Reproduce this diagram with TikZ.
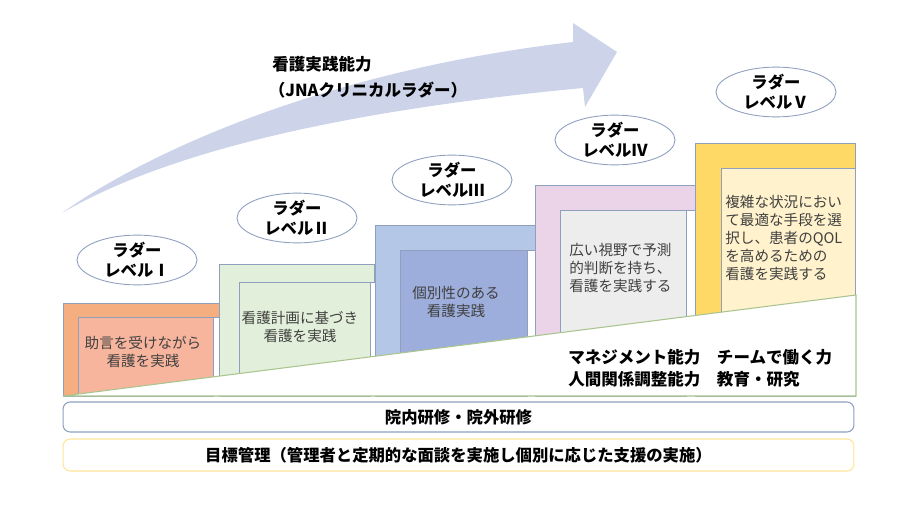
\documentclass[tikz,border=0pt]{standalone}
\usepackage{fontspec}
\setmainfont{Noto Sans CJK JP}
\usetikzlibrary{positioning,shapes.geometric}
\definecolor{lvBorder}{HTML}{8EA0BE}
\definecolor{arrowFill}{HTML}{CDD4EA}
\definecolor{orOuter}{HTML}{F4AE80}
\definecolor{orInner}{HTML}{F7B59D}
\definecolor{grOuter}{HTML}{E2EFDA}
\definecolor{grInner}{HTML}{E2EFDA}
\definecolor{blOuter}{HTML}{B4C7E7}
\definecolor{blInner}{HTML}{9DAEDC}
\definecolor{pkOuter}{HTML}{EBD3E8}
\definecolor{pkInner}{HTML}{EDEDED}
\definecolor{ylOuter}{HTML}{FFD966}
\definecolor{ylInner}{HTML}{FFF2CC}
\definecolor{baseLine}{HTML}{A9C48E}
\definecolor{goalLine}{HTML}{FFE699}
\definecolor{txtGray}{HTML}{404040}

\begin{document}
\begin{tikzpicture}[x=0.02cm,y=-0.02cm,
  frame/.style={draw=lvBorder,line width=0.5pt},
  badge/.style={ellipse,draw=lvBorder,fill=white,line width=0.5pt,minimum width=2.4cm,minimum height=0.93cm,inner sep=0pt,align=center,font=\fontsize{9.3pt}{11.3pt}\selectfont\bfseries},
  desc/.style={text=txtGray,font=\fontsize{8.3pt}{10.3pt}\selectfont,inner sep=0pt},
  bar/.style={rounded corners=4pt,fill=white,line width=0.6pt,minimum width=15.82cm,font=\fontsize{9.3pt}{11pt}\selectfont\bfseries},
  title/.style={font=\fontsize{9.4pt}{11.3pt}\selectfont\bfseries,inner sep=0pt}
]
\useasboundingbox (0,0) rectangle (900,507);

% growth arrow
\fill[arrowFill] (62,213) .. controls (150,150) and (330,70) .. (573,42) -- (573,23) -- (617,52)
  -- (585,107) -- (583,88) .. controls (350,110) and (170,150) .. (62,213) -- cycle;
\node[title] (cap) at (322,64) {看護実践能力};
\node[title] (capsub) at (368,90) {（JNAクリニカルラダー）};

% ladder steps
\draw[frame,fill=orOuter] (63,396) -- (63,303) -- (219,303) -- (219,317) -- (78,317) -- (78,396) -- cycle;
\draw[frame,fill=orInner] (78,317) rectangle (213,396);
\draw[frame,fill=grOuter] (219,396) -- (219,264) -- (374,264) -- (374,282) -- (239,282) -- (239,396) -- cycle;
\draw[frame,fill=grInner] (239,282) rectangle (370,396);
\draw[frame,fill=blOuter] (375,396) -- (375,225) -- (535,225) -- (535,250) -- (400,250) -- (400,396) -- cycle;
\draw[frame,fill=blInner] (400,250) rectangle (527,396);
\draw[frame,fill=pkOuter] (535,396) -- (535,185) -- (695,185) -- (695,210) -- (560,210) -- (560,396) -- cycle;
\draw[frame,fill=pkInner] (560,210) rectangle (686,396);
\draw[frame,fill=ylOuter] (695,396) -- (695,143) -- (855,143) -- (855,168) -- (721,168) -- (721,396) -- cycle;
\draw[frame,fill=ylInner] (721,168) rectangle (855,396);

% base wedge
\draw[fill=white,draw=baseLine,line width=0.6pt] (63,396) -- (856,295) -- (856,396) -- cycle;

% step texts
\node[desc,align=center] (t1) at (143,352) {助言を受けながら\\看護を実践};
\node[desc,align=center] (t2) at (300,327) {看護計画に基づき\\看護を実践};
\node[desc,align=center] (t3) at (456,302) {個別性のある\\看護実践};
\node[desc,align=left,anchor=west] (t4) at (569,268) {広い視野で予測\\的判断を持ち、\\看護を実践する};
\node[desc,align=left,anchor=west] (t5) at (725,238) {複雑な状況におい\\て最適な手段を選\\択し、患者のQOL\\を高めるための\\看護を実践する};

% level badges
\node[badge] (lv1) at (137,260) {ラダー\\レベルⅠ};
\node[badge] (lv2) at (297,218) {ラダー\\レベルⅡ};
\node[badge] (lv3) at (452,180) {ラダー\\レベルⅢ};
\node[badge] (lv4) at (615,140) {ラダー\\レベルⅣ};
\node[badge] (lv5) at (776,92) {ラダー\\レベルⅤ};

\node[title,align=left,anchor=west] (skills) at (568,368) {マネジメント能力　チームで働く力\\[1pt]人間関係調整能力　教育・研究};

% bottom bars
\node[bar,draw=lvBorder,minimum height=0.6cm] (kenshu) at (458.5,417) {院内研修・院外研修};
\node[bar,draw=goalLine,minimum height=0.64cm] (mokuhyo) at (458.5,455) {目標管理（管理者と定期的な面談を実施し個別に応じた支援の実施）};
\end{tikzpicture}
\end{document}
